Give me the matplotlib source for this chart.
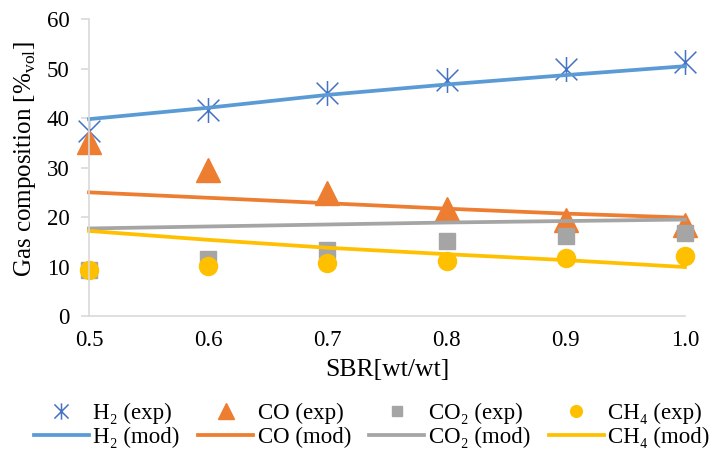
import numpy as np
import matplotlib.pyplot as plt
from matplotlib.path import Path

plt.rcParams['font.family'] = ['Liberation Serif', 'DejaVu Serif']
plt.rcParams['mathtext.fontset'] = 'custom'
plt.rcParams['mathtext.rm'] = 'Liberation Serif'

sbr = [0.5, 0.6, 0.7, 0.8, 0.9, 1.0]

h2_exp = [37.4, 41.7, 45.0, 47.7, 50.0, 51.3]
co_exp = [35.1, 29.5, 24.8, 21.7, 19.5, 18.3]
co2_exp = [9.4, 11.5, 13.4, 15.2, 16.1, 16.8]
ch4_exp = [9.4, 10.2, 10.7, 11.1, 11.8, 12.1]

h2_mod = [39.8, 42.1, 44.7, 46.8, 48.7, 50.5]
co_mod = [25.0, 23.9, 22.8, 21.7, 20.7, 19.9]
co2_mod = [17.7, 18.1, 18.5, 18.9, 19.2, 19.5]
ch4_mod = [17.2, 15.4, 13.8, 12.5, 11.3, 9.9]

xticks = [0.5, 0.6, 0.7, 0.8, 0.9, 1.0]
yticks = [0, 10, 20, 30, 40, 50, 60]

# star marker: vertical bar plus an X
star = Path([(-1, -1), (1, 1), (-1, 1), (1, -1), (0, -1.15), (0, 1.15)],
            [Path.MOVETO, Path.LINETO, Path.MOVETO, Path.LINETO, Path.MOVETO, Path.LINETO])

fig = plt.figure(figsize=(7.15, 4.57), dpi=100)
ax = fig.add_axes([0.1245, 0.3085, 0.8335, 0.6495])

blue_m, blue_l = '#4472C4', '#5B9BD5'
orange, grey, yellow = '#ED7D31', '#A5A5A5', '#FFC000'

h2e, = ax.plot(sbr, h2_exp, ls='none', marker=star, ms=18, mec=blue_m, mew=1.1, mfc='none', label='H₂ (exp)')
coe, = ax.plot(sbr, co_exp, ls='none', marker='^', ms=17, color=orange, label='CO (exp)')
co2e, = ax.plot(sbr, co2_exp, ls='none', marker='s', ms=12, color=grey, label='CO₂ (exp)')
ch4e, = ax.plot(sbr, ch4_exp, ls='none', marker='o', ms=13, color=yellow, label='CH₄ (exp)')

h2m, = ax.plot(sbr, h2_mod, color=blue_l, lw=2.7, label='H₂ (mod)')
com, = ax.plot(sbr, co_mod, color=orange, lw=2.7, label='CO (mod)')
co2m, = ax.plot(sbr, co2_mod, color=grey, lw=2.7, label='CO₂ (mod)')
ch4m, = ax.plot(sbr, ch4_mod, color=yellow, lw=2.7, label='CH₄ (mod)')

ax.set_xlim(0.5, 1.0)
ax.set_ylim(0, 60)
ax.set_xticks(xticks)
ax.set_xticklabels(['%.1f' % v for v in xticks])
ax.set_yticks(yticks)
for sp in ['top', 'right']:
    ax.spines[sp].set_visible(False)
for sp in ['left', 'bottom']:
    ax.spines[sp].set_color('#D9D9D9')
    ax.spines[sp].set_linewidth(1.2)
ax.tick_params(axis='y', direction='out', length=6, color='#D9D9D9', width=1.2, labelsize=16.5, pad=8)
ax.tick_params(axis='x', length=0, labelsize=16.5, pad=10)
for c in ax.lines:
    c.set_clip_on(False)

ax.set_xlabel('SBR[wt/wt]', fontsize=18.5, labelpad=6)
ax.set_ylabel('Gas composition [%$_{\\mathrm{vol}}$]', fontsize=18, labelpad=4)
ax.yaxis.set_label_coords(-0.085, 0.53)

handles = [h2e, h2m, coe, com, co2e, co2m, ch4e, ch4m]
fig.legend(handles=handles, labels=[h.get_label() for h in handles], ncol=4,
           loc='lower center', bbox_to_anchor=(0.52, 0.0), frameon=False, fontsize=16.5,
           handlelength=2.4, handletextpad=0.2, columnspacing=0.8, labelspacing=0.1,
           borderaxespad=0.2, borderpad=0.2, markerscale=0.65)

fig.savefig('out.png', dpi=100)
